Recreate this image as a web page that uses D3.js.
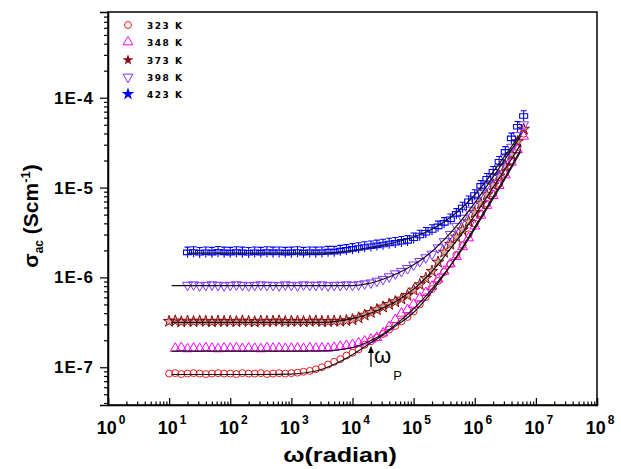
<!DOCTYPE html>
<html><head><meta charset="utf-8">
<script src="https://cdn.jsdelivr.net/npm/d3@7"></script>
<style>body{margin:0;background:#fff}</style>
</head><body>
<svg id="c" width="621" height="469"></svg>
<script>
// ---- data ----
const freq = [10,12.6,15.8,20,25.1,31.6,39.8,50.1,63.1,79.4,
  100,126,158,200,251,316,398,501,631,794,
  1000,1260,1580,2000,2510,3160,3980,5010,6310,7940,
  1e4,1.26e4,1.58e4,2e4,2.51e4,3.16e4,3.98e4,5.01e4,6.31e4,7.94e4,
  1e5,1.26e5,1.58e5,2e5,2.51e5,3.16e5,3.98e5,5.01e5,6.31e5,7.94e5,
  1e6,1.26e6,1.58e6,2e6,2.51e6,3.16e6,3.98e6,5.01e6,6.31e6];
const sigma323 = [8.5e-8,8.6e-8,8.4e-8,8.5e-8,8.6e-8,8.5e-8,8.4e-8,8.5e-8,8.6e-8,8.5e-8,
  8.5e-8,8.4e-8,8.6e-8,8.5e-8,8.5e-8,8.6e-8,8.4e-8,8.5e-8,8.6e-8,8.5e-8,
  8.6e-8,8.7e-8,8.9e-8,9.1e-8,9.5e-8,1.0e-7,1.07e-7,1.15e-7,1.23e-7,1.35e-7,
  1.45e-7,1.58e-7,1.78e-7,1.95e-7,2.14e-7,2.34e-7,2.63e-7,2.88e-7,3.24e-7,3.63e-7,
  4.17e-7,5.01e-7,6.03e-7,7.41e-7,9.12e-7,1.15e-6,1.41e-6,1.78e-6,2.29e-6,3.02e-6,
  3.98e-6,5.13e-6,6.61e-6,8.51e-6,1.10e-5,1.45e-5,2.00e-5,2.82e-5,3.98e-5];
const sigma348 = [null,1.62e-7,1.65e-7,1.60e-7,1.63e-7,1.61e-7,1.64e-7,1.62e-7,1.60e-7,1.63e-7,
  1.62e-7,1.64e-7,1.61e-7,1.63e-7,1.62e-7,1.60e-7,1.64e-7,1.62e-7,1.63e-7,1.61e-7,
  1.62e-7,1.63e-7,1.61e-7,1.64e-7,1.62e-7,1.63e-7,1.62e-7,1.66e-7,1.70e-7,1.74e-7,
  1.78e-7,1.86e-7,1.95e-7,2.04e-7,2.14e-7,2.40e-7,2.82e-7,3.39e-7,3.98e-7,4.37e-7,
  5.01e-7,5.89e-7,6.76e-7,7.94e-7,9.55e-7,1.17e-6,1.41e-6,1.70e-6,2.19e-6,2.75e-6,
  3.72e-6,4.90e-6,6.31e-6,8.13e-6,1.05e-5,1.38e-5,1.91e-5,2.63e-5,3.72e-5];
const sigma373 = [3.24e-7,3.28e-7,3.20e-7,3.26e-7,3.22e-7,3.27e-7,3.24e-7,3.21e-7,3.26e-7,3.23e-7,
  3.25e-7,3.22e-7,3.27e-7,3.24e-7,3.20e-7,3.26e-7,3.23e-7,3.25e-7,3.28e-7,3.22e-7,
  3.24e-7,3.26e-7,3.22e-7,3.25e-7,3.27e-7,3.23e-7,3.24e-7,3.26e-7,3.25e-7,3.31e-7,
  3.39e-7,3.55e-7,3.80e-7,4.07e-7,4.37e-7,4.68e-7,5.01e-7,5.37e-7,5.75e-7,6.31e-7,
  7.24e-7,8.32e-7,9.77e-7,1.17e-6,1.48e-6,1.91e-6,2.34e-6,2.82e-6,3.39e-6,4.17e-6,
  5.25e-6,6.61e-6,8.32e-6,1.07e-5,1.35e-5,1.74e-5,2.34e-5,3.24e-5,4.47e-5];
const sigma398 = [null,null,null,8.2e-7,8.3e-7,8.1e-7,8.2e-7,8.3e-7,8.2e-7,8.1e-7,
  8.2e-7,8.3e-7,8.2e-7,8.1e-7,8.2e-7,8.3e-7,8.2e-7,8.2e-7,8.1e-7,8.3e-7,
  8.2e-7,8.1e-7,8.3e-7,8.2e-7,8.2e-7,8.3e-7,8.1e-7,8.2e-7,8.2e-7,8.3e-7,
  8.2e-7,8.32e-7,8.51e-7,8.71e-7,9.12e-7,9.55e-7,1.02e-6,1.10e-6,1.17e-6,1.26e-6,
  1.38e-6,1.51e-6,1.66e-6,1.82e-6,2.14e-6,2.51e-6,3.02e-6,3.72e-6,4.57e-6,5.62e-6,
  7.08e-6,8.71e-6,1.07e-5,1.32e-5,1.66e-5,2.14e-5,2.82e-5,3.80e-5,5.01e-5];
const sigma423 = [null,null,null,1.91e-6,1.93e-6,1.89e-6,1.92e-6,1.90e-6,1.94e-6,1.91e-6,
  1.90e-6,1.93e-6,1.91e-6,1.89e-6,1.92e-6,1.90e-6,1.93e-6,1.91e-6,1.92e-6,1.90e-6,
  1.91e-6,1.93e-6,1.90e-6,1.92e-6,1.91e-6,1.92e-6,1.95e-6,1.95e-6,2.00e-6,2.04e-6,
  2.09e-6,2.14e-6,2.19e-6,2.24e-6,2.29e-6,2.34e-6,2.40e-6,2.45e-6,2.51e-6,2.57e-6,
  2.75e-6,2.95e-6,3.16e-6,3.39e-6,3.72e-6,4.07e-6,4.47e-6,5.13e-6,6.03e-6,7.08e-6,
  8.32e-6,1.05e-5,1.26e-5,1.51e-5,1.95e-5,2.51e-5,3.55e-5,4.79e-5,6.31e-5];

// fitted curves (black lines)
const fitFreq = [11,20,100,316,1000,3160,1e4,1.78e4,3.16e4,5.62e4,1e5,1.78e5,3.16e5,5.62e5,1e6,1.78e6,3.16e6,5.62e6];
const fit323 = [8.3e-8,8.3e-8,8.3e-8,8.3e-8,8.4e-8,9.5e-8,1.38e-7,1.78e-7,2.29e-7,3.02e-7,4.07e-7,6.31e-7,1.07e-6,1.91e-6,3.63e-6,6.92e-6,1.32e-5,2.63e-5];
const fit348 = [1.51e-7,1.51e-7,1.51e-7,1.51e-7,1.51e-7,1.52e-7,1.66e-7,1.91e-7,2.34e-7,3.16e-7,4.47e-7,6.76e-7,1.10e-6,1.86e-6,3.47e-6,6.61e-6,1.26e-5,2.51e-5];
const fit373 = [3.16e-7,3.16e-7,3.16e-7,3.16e-7,3.16e-7,3.16e-7,3.47e-7,3.89e-7,4.57e-7,5.62e-7,7.41e-7,1.07e-6,1.70e-6,2.82e-6,4.90e-6,8.91e-6,1.62e-5,3.02e-5];
const fit398 = [8.1e-7,8.1e-7,8.1e-7,8.1e-7,8.1e-7,8.1e-7,8.1e-7,8.51e-7,9.55e-7,1.12e-6,1.38e-6,1.82e-6,2.63e-6,4.07e-6,6.76e-6,1.17e-5,2.09e-5,3.72e-5];
const fit423 = [null,1.86e-6,1.86e-6,1.86e-6,1.86e-6,1.86e-6,1.995e-6,2.14e-6,2.29e-6,2.51e-6,2.82e-6,3.31e-6,4.17e-6,5.62e-6,8.32e-6,1.35e-5,2.29e-5,3.98e-5];

const seriesNames = ["323 K","348 K","373 K","398 K","423 K"];
const seriesColors = ["#e8181e","#ff00ff","#8b0a0a","#8030ff","#0000ff"];
const seriesValues = [sigma323,sigma348,sigma373,sigma398,sigma423];
const fitValues = [fit323,fit348,fit373,fit398,fit423];

const xTickValues = [1,1e1,1e2,1e3,1e4,1e5,1e6,1e7,1e8];
const xTickExponents = ["0","1","2","3","4","5","6","7","8"];
const yTickValues = [1e-7,1e-6,1e-5,1e-4];
const yTickLabels = ["1E-7","1E-6","1E-5","1E-4"];

// ---- layout ----
const svg = d3.select("#c");
const L = 108, R = 597, T = 12, B = 405;
const x = d3.scaleLog().domain([1,1e8]).range([L,R]);
const y = d3.scaleLog().domain([3.8e-8,9e-4]).range([B,T]);

// minor ticks
const xMinor = [];
for (let e = 0; e < 8; e++) for (let k = 2; k <= 9; k++) xMinor.push(k*Math.pow(10,e));
const yMinor = [];
for (let e = -8; e <= -4; e++) for (let k = 2; k <= 9; k++) {
  const v = k*Math.pow(10,e);
  if (v >= 3.8e-8 && v <= 9e-4) yMinor.push(v);
}

// frame
svg.append("rect").attr("x",L).attr("y",T).attr("width",R-L).attr("height",B-T)
  .attr("fill","none").attr("stroke","#000").attr("stroke-width",1.5);

// x axis (ticks inward)
const gx = svg.append("g").attr("transform",`translate(0,${B})`);
gx.call(d3.axisBottom(x).tickValues(xMinor).tickSize(-3.5).tickFormat(""));
gx.call(g=>g.select(".domain").remove());
const gx2 = svg.append("g").attr("transform",`translate(0,${B})`);
gx2.call(d3.axisBottom(x).tickValues(xTickValues).tickSize(-7).tickFormat(""));
gx2.select(".domain").attr("stroke-width",1.5);
svg.selectAll("g.tick line").attr("stroke-width",1.2);

// x tick labels
xTickValues.forEach((v,i)=>{
  const t = svg.append("text").attr("x",x(v)+3).attr("y",434)
    .attr("text-anchor","middle").attr("font-family","Liberation Sans, Arial, sans-serif")
    .attr("font-weight","bold").attr("font-size",18);
  t.append("tspan").text("10");
  t.append("tspan").attr("dy",-10).attr("font-size",12).attr("dx",2).text(xTickExponents[i]);
});

// y axis (ticks outward)
const gy = svg.append("g").attr("transform",`translate(${L},0)`);
gy.call(d3.axisLeft(y).tickValues(yMinor).tickSize(4).tickFormat(""));
gy.select(".domain").remove();
const gy2 = svg.append("g").attr("transform",`translate(${L},0)`);
gy2.call(d3.axisLeft(y).tickValues(yTickValues).tickSize(8).tickPadding(6)
  .tickFormat((d,i)=>yTickLabels[i]));
gy2.select(".domain").attr("stroke-width",1.5);
gy2.selectAll("text").attr("font-family","Liberation Sans, Arial, sans-serif")
  .attr("font-weight","bold").attr("font-size",17).attr("fill","#000")
  .attr("letter-spacing","1px");
svg.selectAll("g.tick line").attr("stroke-width",1.2);

// axis titles
const xl = svg.append("text").attr("transform","translate(340,462) scale(1.2,1)")
  .attr("text-anchor","middle").attr("font-family","Liberation Sans, Arial, sans-serif")
  .attr("font-weight","bold").attr("font-size",21).text("ω(radian)");

const yl = svg.append("text").attr("transform","translate(38,216) rotate(-90)")
  .attr("text-anchor","middle").attr("font-family","Liberation Sans, Arial, sans-serif")
  .attr("font-weight","bold").attr("font-size",21);
yl.append("tspan").text("σ");
yl.append("tspan").attr("font-size",12).attr("dy",5).text("ac");
yl.append("tspan").attr("dy",-5).text(" (Scm");
yl.append("tspan").attr("font-size",13).attr("dy",-8).text("-1");
yl.append("tspan").attr("dy",8).text(")");

// symbols
const sym = [
  (g,c)=>g.append("path").attr("d",d3.symbol(d3.symbolCircle,38)()).attr("fill","none").attr("stroke",c).attr("stroke-width",1),
  (g,c)=>g.append("path").attr("d",d3.symbol(d3.symbolTriangle,42)()).attr("fill","none").attr("stroke",c).attr("stroke-width",1),
  (g,c)=>g.append("path").attr("d",d3.symbol(d3.symbolStar,42)()).attr("fill",c).attr("fill-opacity",0.35).attr("stroke",c).attr("stroke-width",1),
  (g,c)=>g.append("path").attr("d",d3.symbol(d3.symbolTriangle,42)()).attr("transform","rotate(180)").attr("fill","none").attr("stroke",c).attr("stroke-width",1),
  (g,c)=>g.append("path").attr("d","M-4,-2H4V2.5H-4Z M0,-5.5V5.5 M-3,-5H3").attr("fill","none").attr("stroke",c).attr("stroke-width",1.1)
];

const plot = svg.append("g");
seriesValues.forEach((vals,si)=>{
  const g = plot.append("g");
  vals.forEach((v,i)=>{
    if (v == null) return;
    const m = g.append("g").attr("transform",`translate(${x(freq[i])},${y(v)})`);
    sym[si](m, seriesColors[si]);
  });
});

// fit lines
const line = d3.line().defined(d=>d[1]!=null).x(d=>x(d[0])).y(d=>y(d[1])).curve(d3.curveMonotoneX);
fitValues.forEach(vals=>{
  plot.append("path").attr("d",line(fitFreq.map((f,i)=>[f,vals[i]])))
    .attr("fill","none").attr("stroke","#111").attr("stroke-width",1.2);
});

// legend
const legY = [25,42,60,77,94];
seriesNames.forEach((n,i)=>{
  const m = svg.append("g").attr("transform",`translate(128,${legY[i]})`);
  if (i === 2) m.append("path").attr("d",d3.symbol(d3.symbolStar,36)()).attr("fill",seriesColors[i]);
  else if (i === 4) m.append("path").attr("d",d3.symbol(d3.symbolStar,50)()).attr("fill",seriesColors[i]);
  else sym[i](m, seriesColors[i]);
  svg.append("text").attr("x",147).attr("y",legY[i]+4)
    .attr("font-family","DejaVu Sans, sans-serif").attr("font-weight","bold")
    .attr("font-size",9).attr("letter-spacing","1.5px").text(n);
});

// omega_p annotation
svg.append("line").attr("x1",371).attr("x2",371).attr("y1",367).attr("y2",350)
  .attr("stroke","#000").attr("stroke-width",1.3);
svg.append("path").attr("d","M368,353L371,346L374,353Z").attr("fill","#000");
const wp = svg.append("text").attr("x",374).attr("y",363)
  .attr("font-family","Liberation Sans, Arial, sans-serif").attr("font-size",22);
wp.append("tspan").text("ω");
wp.append("tspan").attr("font-size",13).attr("dy",17).attr("dx",2).text("P");
</script>
</body></html>
